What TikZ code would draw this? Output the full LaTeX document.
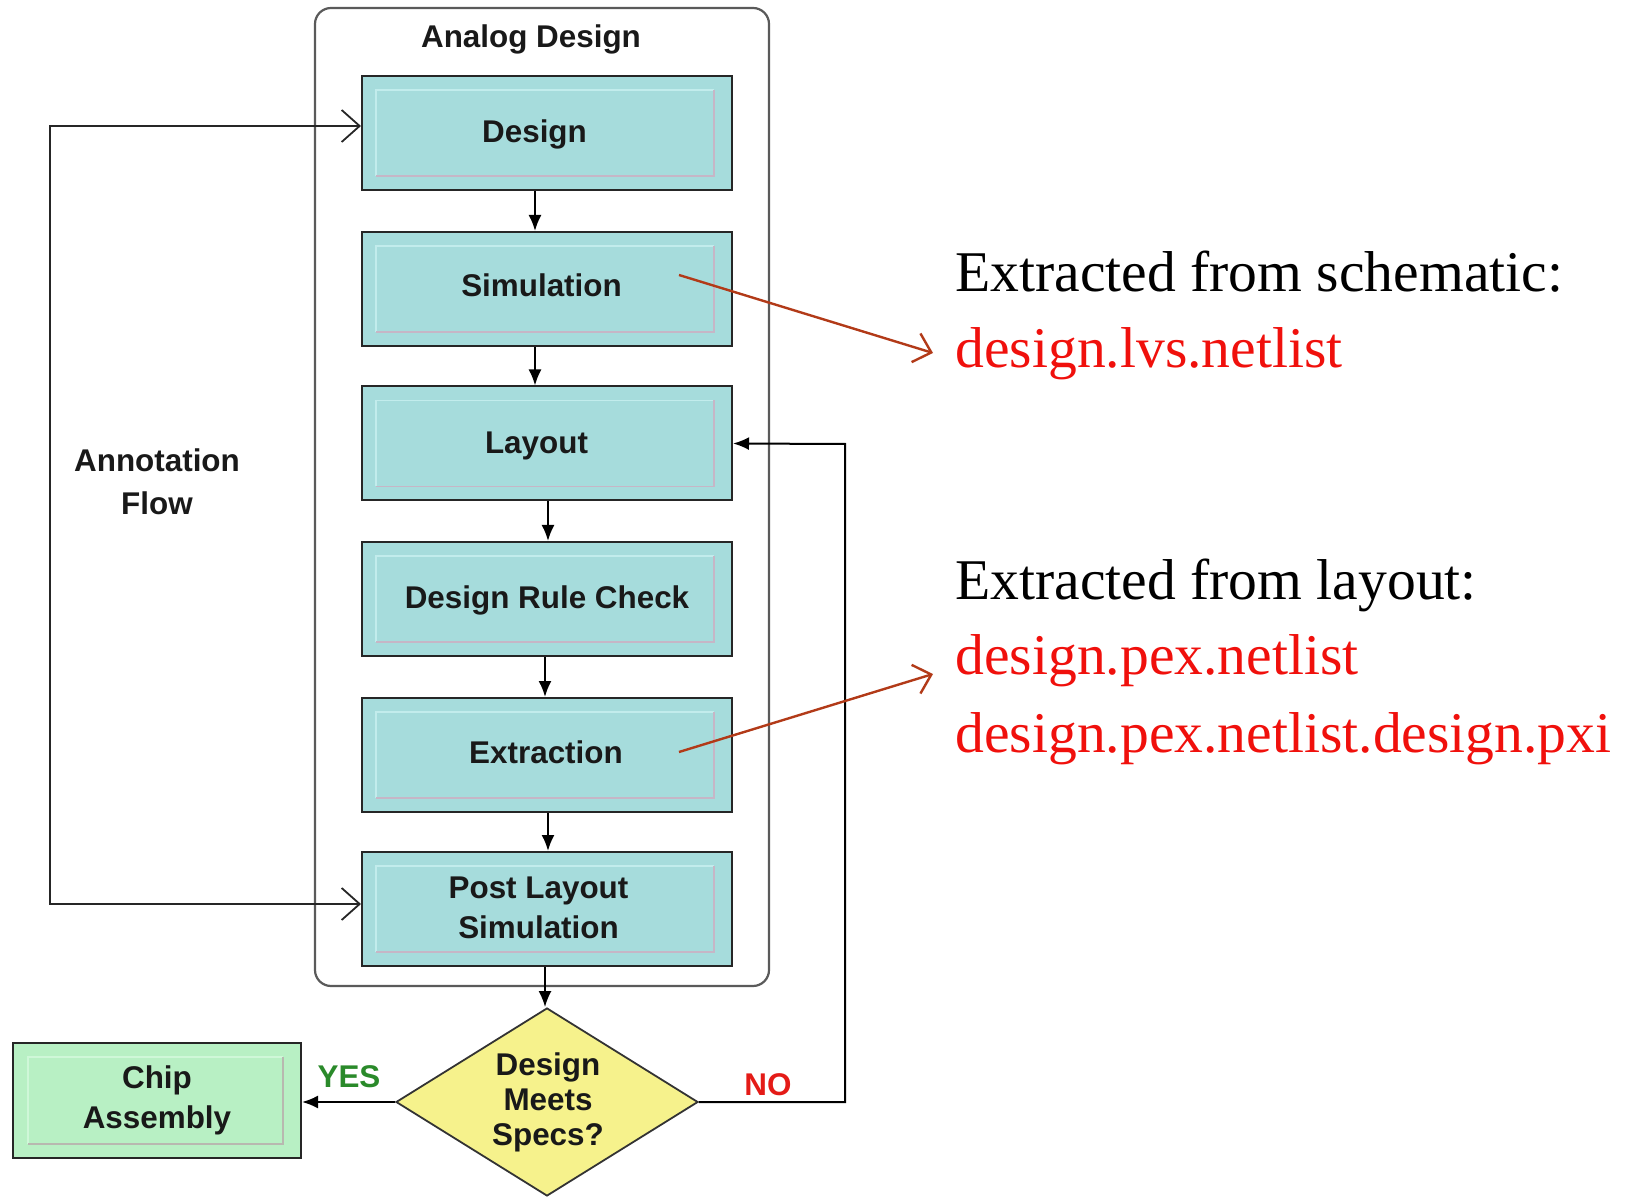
\documentclass[tikz,border=0pt]{standalone}
\usepackage{fontspec}
\setmainfont{Liberation Serif}
\setsansfont{Liberation Sans}
\usetikzlibrary{arrows.meta,shapes.geometric}
\definecolor{boxteal}{HTML}{A6DCDC}
\definecolor{boxhi}{HTML}{C2ECEC}
\definecolor{boxlo}{HTML}{C6B6C6}
\definecolor{chipgreen}{HTML}{B8F0C4}
\definecolor{chiphi}{HTML}{CFF7D8}
\definecolor{chiplo}{HTML}{B8B8B0}
\definecolor{dmyellow}{HTML}{F6F28C}
\definecolor{arrowred}{HTML}{B23A18}
\definecolor{filered}{HTML}{F0100C}
\definecolor{yesgreen}{HTML}{2A8A2A}
\definecolor{nored}{HTML}{E41B17}
\definecolor{framegray}{HTML}{5A5A5A}
\tikzset{
  lbl/.style={font=\sffamily\bfseries\fontsize{15.7}{20}\selectfont, text=black!90},
  procbox/.style={draw=black!85, line width=1pt, fill=boxteal,
    minimum width=185pt, minimum height=57pt, inner sep=0pt},
  boxtext/.style={lbl, align=center, inner sep=0pt},
  chipbox/.style={lbl, draw=black!85, line width=1pt, fill=chipgreen,
    minimum width=144pt, minimum height=57.5pt, inner sep=0pt, align=center},
  flow/.style={draw=black, line width=1pt, -{Latex[length=8pt,width=6.5pt]}},
  fbline/.style={draw=black!85, line width=0.9pt,
    {Straight Barb[length=9pt,width=16pt]}-{Straight Barb[length=9pt,width=16pt]}},
  redarrow/.style={draw=arrowred, line width=1.2pt, -{Straight Barb[length=8pt,width=15pt]}},
  serif/.style={font=\fontsize{28.8}{34}\selectfont, anchor=base west, inner sep=0pt},
  innerhi/.style={draw=boxhi, line width=0.9pt},
  innerlo/.style={draw=boxlo, line width=0.9pt}
}
\begin{document}
\begin{tikzpicture}[x=0.5pt,y=-0.5pt]
\useasboundingbox (0,0) rectangle (1638,1197);

% container
\draw[framegray, line width=1.1pt, rounded corners=8pt] (315,8) rectangle (769,986);
\node[lbl] (title) at (531,39) {Analog Design};

% process boxes
\node[procbox] (design) at (547,133) {};
\node[procbox] (sim) at (547,289) {};
\node[procbox] (layout) at (547,443.5) {};
\node[procbox] (drc) at (547,599) {};
\node[procbox] (ext) at (547,755) {};
\node[procbox] (post) at (547,909) {};

\foreach \n in {design,sim,layout,drc,ext,post}{
  \draw[innerhi] ([shift={(15,-15)}]\n.south west) -- ([shift={(15,15)}]\n.north west) -- ([shift={(-19,15)}]\n.north east);
  \draw[innerlo] ([shift={(-19,15)}]\n.north east) -- ([shift={(-19,-15)}]\n.south east) -- ([shift={(15,-15)}]\n.south west);
}

\node[boxtext] (designT) at (534.5,134) {Design};
\node[boxtext] (simT) at (541.5,285) {Simulation};
\node[boxtext] (layoutT) at (536.5,445.5) {Layout};
\node[boxtext] (drcT) at (547,600) {Design Rule Check};
\node[boxtext] (extT) at (546,752) {Extraction};
\node[boxtext, text depth=0pt] (postT) at (538.5,908) {Post Layout\\Simulation};

% decision
\node[diamond, draw=black!80, line width=0.9pt, fill=dmyellow, minimum width=151pt, minimum height=94pt, inner sep=0pt] (dm) at (547,1102) {};
\node[lbl, align=center, font=\sffamily\bfseries\fontsize{15.7}{17.5}\selectfont] (dmtext) at (548,1102) {Design\\Meets\\Specs?};

% chip assembly
\node[chipbox] (chip) at (157,1100.5) {Chip\\Assembly};
\draw[draw=chiphi, line width=0.9pt] ([shift={(16,-15)}]chip.south west) -- ([shift={(16,15)}]chip.north west) -- ([shift={(-19,15)}]chip.north east);
\draw[draw=chiplo, line width=0.9pt] ([shift={(-19,15)}]chip.north east) -- ([shift={(-19,-15)}]chip.south east) -- ([shift={(16,-15)}]chip.south west);

% vertical flow
\draw[flow] ([xshift=-6pt]design.south) -- ([xshift=-6pt]sim.north);
\draw[flow] ([xshift=-6pt]sim.south) -- ([xshift=-6pt]layout.north);
\draw[flow] ([xshift=0.5pt]layout.south) -- ([xshift=0.5pt]drc.north);
\draw[flow] ([xshift=-1pt]drc.south) -- ([xshift=-1pt]ext.north);
\draw[flow] ([xshift=0.5pt]ext.south) -- ([xshift=0.5pt]post.north);
\draw[flow] ([xshift=-1pt]post.south) -- ([xshift=-1pt]post.south |- dm.north);

% yes / no
\draw[flow] (dm.west) -- (dm.west -| chip.east);
\node[lbl, text=yesgreen] (yes) at (349,1077) {YES};
\draw[flow] (dm.east) -| (845,444) -- (layout.east);
\node[lbl, text=nored] (no) at (768,1085) {NO};

% annotation flow
\draw[fbline] ([yshift=2.5pt]post.west) -| (50,126) -- ([yshift=3.5pt]design.west);
\node[lbl, align=center, font=\sffamily\bfseries\fontsize{15.7}{21.5}\selectfont] (ann) at (157,482) {Annotation\\Flow};

% right texts
\node[serif] (t1) at (955,292) {Extracted from schematic:};
\node[serif, text=filered] (lvs) at (955,368) {design.lvs.netlist};
\node[serif] (t2) at (955,599) {Extracted from layout:};
\node[serif, text=filered] (pex1) at (955,675) {design.pex.netlist};
\node[serif, text=filered] (pex2) at (955,752) {design.pex.netlist.design.pxi};

\coordinate (s1) at (679,275);
\coordinate (e1) at (933,353);
\coordinate (s2) at (679,752);
\coordinate (e2) at (933,674);
\draw[redarrow] (s1) -- (e1);
\draw[redarrow] (s2) -- (e2);
\end{tikzpicture}
\end{document}
